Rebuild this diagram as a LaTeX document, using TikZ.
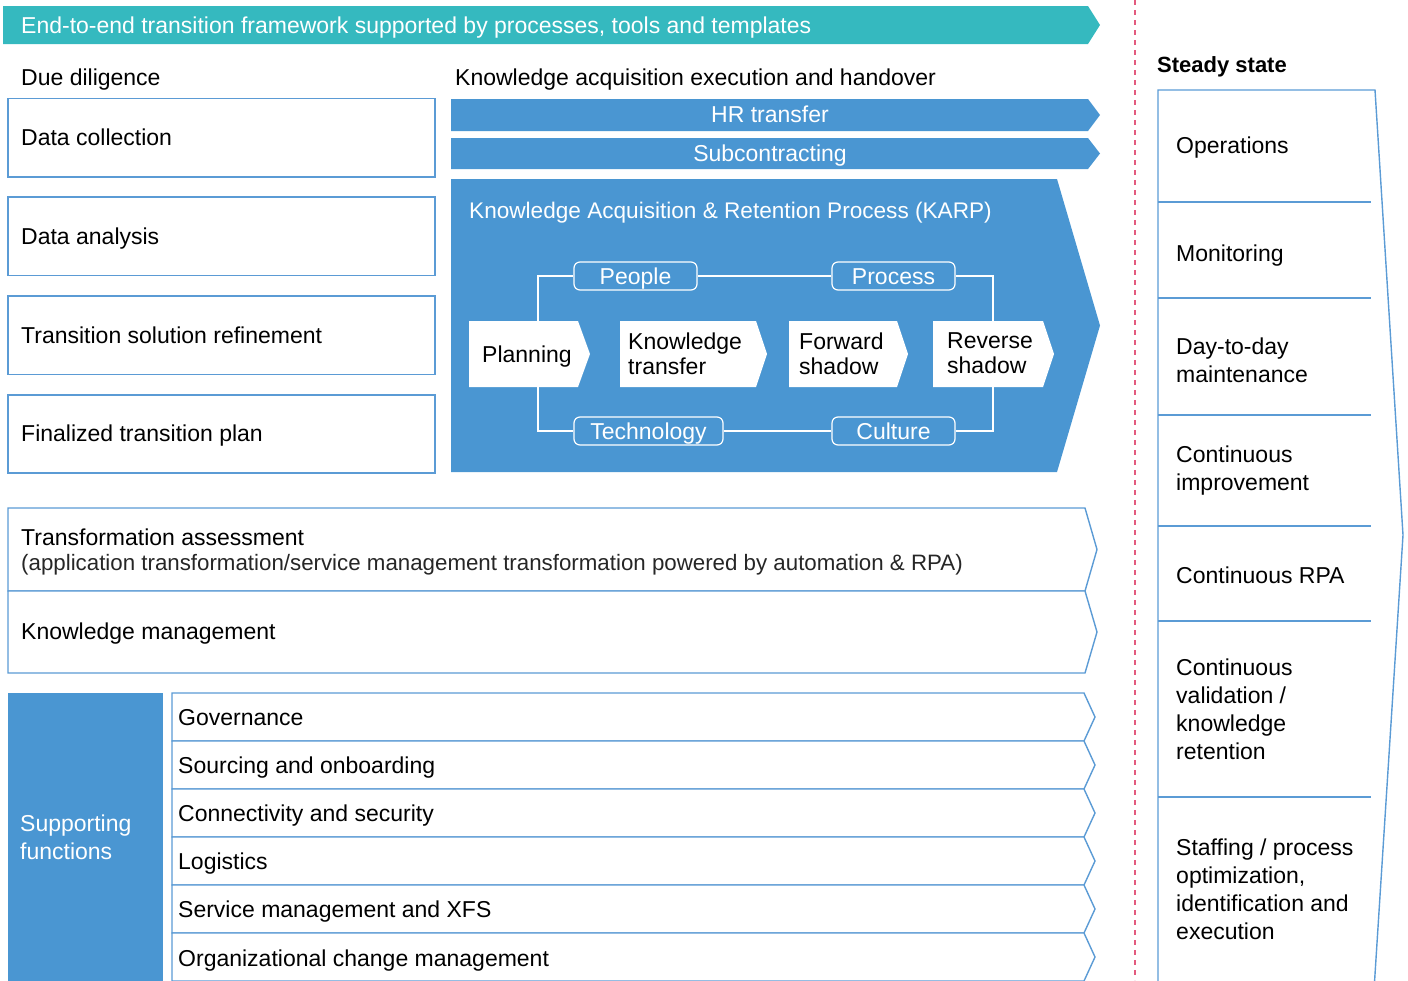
\documentclass[tikz,border=0pt]{standalone}
\usepackage{fontspec}
\setmainfont{Liberation Sans}
\definecolor{eyblue}{HTML}{4A96D2}
\definecolor{eyteal}{HTML}{35B9BF}
\definecolor{eyline}{HTML}{5B9BD5}
\definecolor{eypink}{HTML}{E35A7E}
\tikzset{
  txt/.style={anchor=west, inner sep=0pt, text height=16.5pt, text depth=0pt,
    font=\fontsize{23}{28}\selectfont},
  mtxt/.style={anchor=north west, inner sep=0pt, align=left,
    font=\fontsize{23}{28}\selectfont},
  ktxt/.style={anchor=north west, inner sep=0pt, align=left,
    font=\fontsize{23}{25}\selectfont},
  outline/.style={draw=eyline, line width=1.4pt, fill=white, line join=miter},
  pill/.style={draw=white, fill=eyblue, line width=1.2pt, rounded corners=6pt,
    text=white, inner sep=0pt, minimum height=28pt, text height=16.5pt, text depth=0pt,
    font=\fontsize{23}{28}\selectfont},
  loopline/.style={draw=white, line width=1.2pt},
  chev/.style={fill=white, draw=none},
}
\begin{document}
\begin{tikzpicture}[x=1pt, y=-1pt]
\useasboundingbox (0,0) rectangle (1408,980);
\clip (0,0) rectangle (1408,980);

% top banner
\fill[eyteal] (3,6) -- (1088,6) -- (1100,25) -- (1088,44) -- (3,44) -- cycle;
\node[txt, text=white] (banner) at (21,25)
  {End-to-end transition framework supported by processes, tools and templates};

% column headings
\node[txt] (dd) at (21,77) {Due diligence};
\node[txt] (kaeh) at (455,77) {Knowledge acquisition execution and handover};

% due diligence boxes
\draw[outline] (8,98.5) rectangle (435,177);
\node[txt] (dc) at (21,137) {Data collection};
\draw[outline] (8,197) rectangle (435,275.5);
\node[txt] (da) at (21,236) {Data analysis};
\draw[outline] (8,296) rectangle (435,374.5);
\node[txt] (tsr) at (21,335) {Transition solution refinement};
\draw[outline] (8,395) rectangle (435,473);
\node[txt] (ftp) at (21,433) {Finalized transition plan};

% HR transfer and subcontracting bars
\fill[eyblue] (451,99) -- (1088,99) -- (1100,115) -- (1088,131) -- (451,131) -- cycle;
\node[txt, anchor=center, text=white] (hr) at (770,114.5) {HR transfer};
\fill[eyblue] (451,138) -- (1088,138) -- (1100,153.5) -- (1088,169) -- (451,169) -- cycle;
\node[txt, anchor=center, text=white] (sub) at (770,153) {Subcontracting};

% KARP block
\fill[eyblue] (451,179) -- (1057,179) -- (1100,325.5) -- (1057,472) -- (451,472) -- cycle;
\node[txt, text=white, font=\fontsize{22.6}{28}\selectfont] (karp) at (469,210)
  {Knowledge Acquisition \& Retention Process (KARP)};

% loop of the four dimensions
\coordinate (lt) at (538,276);
\coordinate (lb) at (538,431);
\coordinate (rt) at (993,276);
\coordinate (rb) at (993,431);
\node[pill, minimum width=123pt] (people) at (635.5,276) {People};
\node[pill, minimum width=123pt] (process) at (893.5,276) {Process};
\node[pill, minimum width=149pt] (tech) at (648.5,431) {Technology};
\node[pill, minimum width=123pt] (culture) at (893.5,431) {Culture};
\draw[loopline] (people.west) -- (lt) -- (lb) -- (tech.west);
\draw[loopline] (people.east) -- (process.west);
\draw[loopline] (tech.east) -- (culture.west);
\draw[loopline] (process.east) -- (rt) -- (rb) -- (culture.east);

% KARP steps
\fill[chev] (469,321) -- (578,321) -- (590,354) -- (578,387) -- (469,387) -- cycle;
\node[txt] (plan) at (482,354) {Planning};
\fill[chev] (620,321) -- (756,321) -- (767,354) -- (756,387) -- (620,387) -- cycle;
\node[ktxt] (kt) at (628,332.5) {Knowledge\\transfer};
\fill[chev] (789,321) -- (897,321) -- (908,354) -- (897,387) -- (789,387) -- cycle;
\node[ktxt] (fs) at (799,332.5) {Forward\\shadow};
\fill[chev] (933,321) -- (1043,321) -- (1054,354) -- (1043,387) -- (933,387) -- cycle;
\node[ktxt] (rs) at (947,332.5) {Reverse\\shadow};

% transformation assessment and knowledge management
\draw[outline] (8,508) -- (1085,508) -- (1097,549.5) -- (1085,591) -- (8,591) -- cycle;
\node[txt] (ta) at (21,537) {Transformation assessment};
\node[txt, text=black!85, font=\fontsize{22.3}{28}\selectfont] (tad) at (21,562)
  {(application transformation/service management transformation powered by automation \& RPA)};
\draw[outline] (8,591) -- (1085,591) -- (1097,632) -- (1085,673) -- (8,673) -- cycle;
\node[txt] (km) at (21,631) {Knowledge management};

% supporting functions
\fill[eyblue] (8,693) rectangle (163,990);
\node[mtxt, text=white] (sf) at (20,814.5) {Supporting\\functions};
\draw[outline] (172,693) -- (1084,693) -- (1095,717) -- (1084,741) -- (172,741) -- cycle;
\node[txt] (gov) at (178,717) {Governance};
\draw[outline] (172,741) -- (1084,741) -- (1095,765) -- (1084,789) -- (172,789) -- cycle;
\node[txt] (soa) at (178,765) {Sourcing and onboarding};
\draw[outline] (172,789) -- (1084,789) -- (1095,813) -- (1084,837) -- (172,837) -- cycle;
\node[txt] (cas) at (178,813) {Connectivity and security};
\draw[outline] (172,837) -- (1084,837) -- (1095,861) -- (1084,885) -- (172,885) -- cycle;
\node[txt] (log) at (178,861) {Logistics};
\draw[outline] (172,885) -- (1084,885) -- (1095,909) -- (1084,933) -- (172,933) -- cycle;
\node[txt] (sm) at (178,909) {Service management and XFS};
\draw[outline] (172,933) -- (1084,933) -- (1095,957) -- (1084,981) -- (172,981) -- cycle;
\node[txt] (ocm) at (178,958) {Organizational change management};

% separator
\draw[eypink, line width=1.3pt, dash pattern=on 5pt off 5pt] (1135,0) -- (1135,980);

% steady state
\node[txt, font=\fontsize{22}{28}\selectfont\bfseries] (ss) at (1157,64) {Steady state};
\draw[draw=eyline, line width=1.4pt] (1158,990) -- (1158,90) -- (1375,90) -- (1403,535) -- (1374,990);
\foreach \yy in {202,298,415,526,621,797}
  \draw[draw=eyline, line width=1.4pt] (1158,\yy) -- (1371,\yy);
\node[txt] (ops) at (1176,145) {Operations};
\node[txt] (mon) at (1176,253) {Monitoring};
\node[mtxt] (dtd) at (1176,337.5) {Day-to-day\\maintenance};
\node[mtxt] (ci) at (1176,445.5) {Continuous\\improvement};
\node[txt] (crpa) at (1176,575) {Continuous RPA};
\node[mtxt] (cv) at (1176,658.5) {Continuous\\validation /\\knowledge\\retention};
\node[mtxt] (spo) at (1176,838.5) {Staffing / process\\optimization,\\identification and\\execution};
\end{tikzpicture}
\end{document}
